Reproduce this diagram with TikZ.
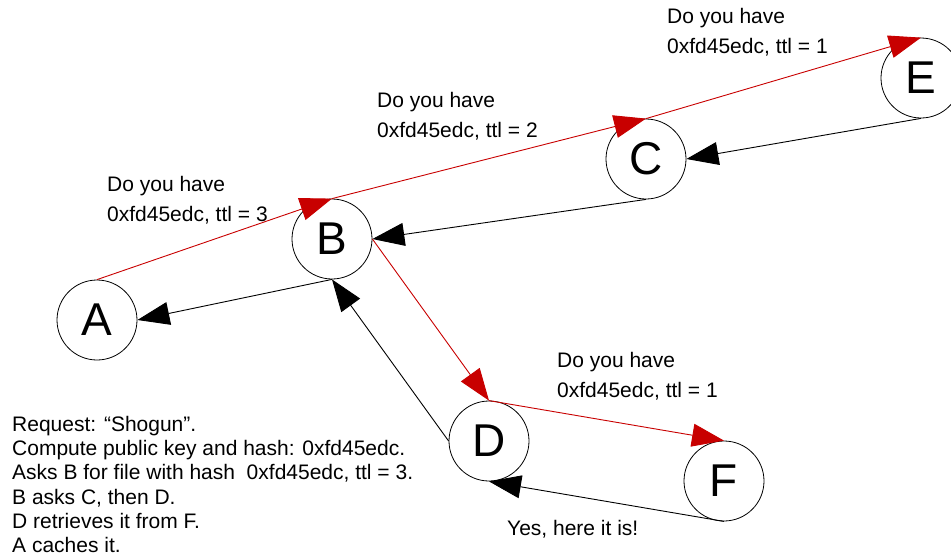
\documentclass[tikz,border=0pt]{standalone}
\usepackage{fontspec}
\setmainfont{Liberation Sans}
\usetikzlibrary{arrows.meta}
\definecolor{askred}{RGB}{200,0,0}

\begin{document}
\begin{tikzpicture}[x=1pt,y=-1pt,
        peer/.style={draw,circle,minimum size=80pt,inner sep=0pt,line width=0.8pt,font=\fontsize{46}{46}\selectfont},
        msg/.style={anchor=north west,inner sep=0pt,align=left,font=\fontsize{21}{30}\selectfont},
        ask/.style={askred,line width=0.9pt,-{Triangle[length=32pt,width=23pt]}},
        reply/.style={black,line width=0.9pt,-{Triangle[length=32pt,width=23pt]}}]
    \useasboundingbox (0,0) rectangle (951,558);
    % the peers
    \node[peer] (A) at (97,320) {A};
    \node[peer] (B) at (332,239) {B};
    \node[peer] (C) at (646,159) {C};
    \node[peer] (E) at (921,78) {E};
    \node[peer] (D) at (489,441) {D};
    \node[peer] (F) at (724,481) {F};
    % requests going out
    \draw[ask] (A.north) -- (B.north);
    \draw[ask] (B.north) -- (C.north);
    \draw[ask] (C.north) -- (E.north);
    \draw[ask] (B.east) -- (D.north);
    \draw[ask] (D.north) -- (F.north);
    % answers coming back
    \draw[reply] (E.south) -- (C.east);
    \draw[reply] (C.south) -- (B.east);
    \draw[reply] (B.south) -- (A.east);
    \draw[reply] (D.west) -- (B.south);
    \draw[reply] (F.south) -- (D.south);
    % messages
    \node[msg] (askB) at (107,176) {Do you have\\0xfd45edc, ttl = 3};
    \node[msg] (askC) at (377,92) {Do you have\\0xfd45edc, ttl = 2};
    \node[msg] (askE) at (667,8) {Do you have\\0xfd45edc, ttl = 1};
    \node[msg] (askF) at (557,352) {Do you have\\0xfd45edc, ttl = 1};
    \node[msg] (found) at (507,520) {Yes, here it is!};
    \node[msg,font=\fontsize{21}{24.2}\selectfont] (steps) at (12,416) {Request: “Shogun”.\\Compute public key and hash: 0xfd45edc.\\Asks B for file with hash\ \ 0xfd45edc, ttl = 3.\\B asks C, then D.\\D retrieves it from F.\\A caches it.};
\end{tikzpicture}
\end{document}
